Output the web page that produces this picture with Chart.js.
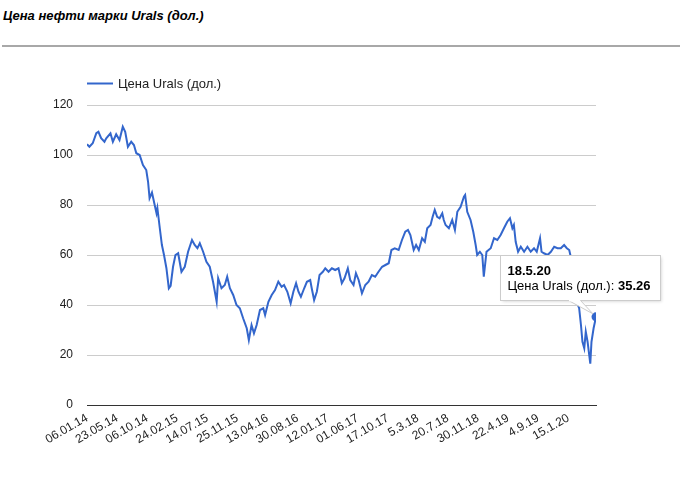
<!DOCTYPE html>
<html>
<head>
<meta charset="utf-8">
<script src="https://cdn.jsdelivr.net/npm/chart.js@4.4.1/dist/chart.umd.min.js"></script>
<style>
  body { margin: 0; background: #fff; }
  #wrap { position: relative; width: 682px; height: 479px; }
  .chart-title { position: absolute; left: 3px; top: 8px; font: italic bold 13px Arial, 'Liberation Sans', sans-serif; color: #000; }
  .rule { position: absolute; left: 2px; top: 45px; width: 678px; height: 2px; background: #a8a8a8; }
  canvas { position: absolute; left: 0; top: 0; }
</style>
</head>
<body>
<div id="wrap">
  <div class="chart-title">Цена нефти марки Urals (дол.)</div>
  <div class="rule"></div>
  <canvas id="urals-chart" width="682" height="479"></canvas>
</div>
<script>
// Urals price, trading-day index from 06.01.14
const seriesName = 'Цена Urals (дол.)';
const tickLabels = ['06.01.14', '23.05.14', '06.10.14', '24.02.15', '14.07.15', '25.11.15', '13.04.16', '30.08.16',
  '12.01.17', '01.06.17', '17.10.17', '5.3.18', '20.7.18', '30.11.18', '22.4.19', '4.9.19', '15.1.20'];
const tickStep = 100; // trading days between shown labels
const lastLabel = '18.5.20';

const tradeDay = [
  0, 8, 19, 31, 38, 47, 58, 64, 78, 86, 97, 108, 119, 127, 136, 147, 156, 164, 175, 186,
  197, 203, 208, 216, 225, 231, 234, 242, 249, 256, 264, 272, 278, 286, 294, 303, 314, 325, 336, 349,
  358, 367, 375, 386, 397, 408, 419, 431, 436, 447, 458, 466, 475, 486, 497, 508, 519, 531, 538, 547,
  555, 564, 575, 586, 592, 603, 614, 625, 636, 647, 655, 666, 677, 686, 695, 703, 711, 722, 731, 742,
  747, 755, 764, 773, 784, 792, 803, 814, 825, 836, 847, 856, 867, 875, 886, 894, 903, 914, 925, 936,
  947, 958, 969, 981, 992, 1003, 1012, 1023, 1036, 1047, 1058, 1067, 1075, 1086, 1094, 1103, 1114, 1123, 1131, 1142,
  1149, 1156, 1164, 1172, 1181, 1186, 1192, 1203, 1214, 1223, 1231, 1242, 1253, 1257, 1264, 1275, 1284, 1292, 1297, 1306,
  1314, 1319, 1328, 1342, 1353, 1364, 1375, 1386, 1397, 1406, 1414, 1419, 1425, 1433, 1442, 1453, 1464, 1475, 1486, 1495,
  1506, 1511, 1519, 1531, 1542, 1553, 1564, 1575, 1586, 1595, 1603, 1608, 1615, 1625, 1632, 1636, 1642, 1647, 1653, 1658,
  1664, 1673, 1677, 1684, 1692
];
const price = [
  104.3, 103.3, 104.7, 108.7, 109.3, 106.7, 105.3, 106.7, 108.7, 105.3, 108.3, 106, 111.3, 109.3, 103.3, 105.3, 104, 100.7, 100, 96,
  94, 89.3, 82.7, 85, 80, 76.7, 78.7, 70.7, 64, 60, 54.7, 46.7, 47.7, 55.3, 60, 60.7, 53.3, 55.3, 61.3, 66,
  64, 62.7, 64.7, 61.3, 57.3, 55.3, 49.3, 41.3, 50.7, 46.7, 48, 51.3, 46.7, 44, 40, 38.7, 34.7, 30.7, 26, 32,
  28.7, 32, 38, 38.7, 36, 41.3, 44, 46, 49.3, 47.3, 48, 45.3, 40.7, 45.3, 48.7, 45.3, 43.3, 46.7, 49.3, 50,
  46.7, 42, 45.3, 52, 53.3, 54.7, 53.3, 54.7, 54, 54.7, 48.7, 50.7, 54.7, 50, 48, 52.7, 50, 44.7, 48, 49.3,
  52, 51.3, 53.3, 55.3, 56, 56.7, 62, 62.7, 62, 66, 69.3, 70, 68, 62, 64, 62, 66.7, 65.3, 70.7, 72,
  75.3, 78, 75.3, 74.7, 76.7, 74, 72, 70.7, 74, 70, 77.3, 79.3, 83.3, 84, 77.3, 74, 69.3, 64, 60, 61.3,
  60, 51.3, 61.3, 62.7, 66.7, 66, 68, 70.7, 73.3, 74.7, 70.7, 72, 65.3, 61.3, 63.3, 61.3, 63.3, 61.3, 62.7, 61.3,
  66.7, 61.3, 60.7, 60, 61.3, 63.3, 62.7, 62.7, 64, 62.7, 62, 59.3, 54, 46, 40, 38.7, 32, 25.3, 22.7, 29.3,
  25.3, 16.5, 25.3, 30.7, 35.26
];

const lineColor = '#3366cc';
const lastIdx = price.length - 1;

// legend + fixed tooltip for the last point
const overlayPlugin = {
  id: 'overlay',
  afterDraw(chart) {
    const ctx = chart.ctx;
    ctx.save();
    // legend
    ctx.strokeStyle = lineColor;
    ctx.lineWidth = 2;
    ctx.beginPath();
    ctx.moveTo(87, 83.5);
    ctx.lineTo(113, 83.5);
    ctx.stroke();
    ctx.fillStyle = '#222';
    ctx.font = '13px Arial, "Liberation Sans", sans-serif';
    ctx.textBaseline = 'middle';
    ctx.fillText(seriesName, 118, 84);

    // tooltip
    const pt = chart.getDatasetMeta(0).data[lastIdx];
    const bodyA = seriesName + ': ';
    const bodyB = price[lastIdx].toFixed(2);
    ctx.font = '13px Arial, "Liberation Sans", sans-serif';
    const wA = ctx.measureText(bodyA).width;
    ctx.font = 'bold 13px Arial, "Liberation Sans", sans-serif';
    const wB = ctx.measureText(bodyB).width;
    const bx = Math.round(pt.x) - 95.5, by = Math.round(pt.y) - 61.5;
    const bw = Math.round(wA + wB + 17), bh = 45;

    ctx.shadowColor = 'rgba(0,0,0,0.18)';
    ctx.shadowBlur = 3;
    ctx.shadowOffsetX = 1;
    ctx.shadowOffsetY = 1;
    ctx.fillStyle = '#fff';
    ctx.fillRect(bx, by, bw, bh);
    ctx.shadowColor = 'transparent';
    ctx.strokeStyle = '#ccc';
    ctx.lineWidth = 1;
    ctx.strokeRect(bx, by, bw, bh);

    // tail
    const t1 = bx + 68, t2 = bx + 80;
    ctx.beginPath();
    ctx.moveTo(t1, by + bh);
    ctx.lineTo(pt.x - 3, pt.y - 3);
    ctx.lineTo(t2, by + bh);
    ctx.closePath();
    ctx.fillStyle = '#fff';
    ctx.fill();
    ctx.beginPath();
    ctx.moveTo(t1, by + bh);
    ctx.lineTo(pt.x - 3, pt.y - 3);
    ctx.lineTo(t2, by + bh);
    ctx.stroke();
    ctx.fillStyle = '#fff';
    ctx.fillRect(t1 + 0.5, by + bh - 1, t2 - t1 - 1, 2);

    ctx.textBaseline = 'alphabetic';
    ctx.fillStyle = '#000';
    ctx.font = 'bold 13px Arial, "Liberation Sans", sans-serif';
    ctx.fillText(lastLabel, bx + 7, by + 19);
    ctx.font = '13px Arial, "Liberation Sans", sans-serif';
    ctx.fillText(bodyA, bx + 7, by + 34);
    ctx.font = 'bold 13px Arial, "Liberation Sans", sans-serif';
    ctx.fillText(bodyB, bx + 7 + wA, by + 34);
    ctx.restore();
  }
};

new Chart(document.getElementById('urals-chart'), {
  type: 'line',
  data: {
    datasets: [{
      label: seriesName,
      data: tradeDay.map((d, i) => ({ x: d, y: price[i] })),
      borderColor: lineColor,
      backgroundColor: lineColor,
      borderWidth: 2,
      tension: 0,
      pointRadius: c => c.dataIndex === lastIdx ? 4.5 : 0,
      pointBorderWidth: 0,
      fill: false
    }]
  },
  options: {
    responsive: false,
    devicePixelRatio: 1,
    animation: false,
    events: [],
    layout: { padding: { top: 105, right: 86, bottom: 0, left: 0 } },
    plugins: { legend: { display: false }, tooltip: { enabled: false } },
    scales: {
      x: {
        type: 'linear',
        min: 0,
        max: tradeDay[lastIdx],
        afterBuildTicks: s => { s.ticks = tickLabels.map((_, i) => ({ value: i * tickStep })); },
        afterFit: s => { s.height = 74; },
        ticks: {
          autoSkip: false,
          minRotation: 30,
          maxRotation: 30,
          padding: 6,
          color: '#222',
          font: { family: 'Arial, "Liberation Sans", sans-serif', size: 12 },
          callback: v => tickLabels[Math.round(v / tickStep)]
        },
        grid: { display: false, drawTicks: false },
        border: { display: true, color: '#333', width: 1 }
      },
      y: {
        min: 0,
        max: 120,
        afterFit: s => { s.width = 87; },
        ticks: {
          stepSize: 20,
          padding: 14,
          color: '#222',
          font: { family: 'Arial, "Liberation Sans", sans-serif', size: 12 }
        },
        grid: { color: '#ccc', drawTicks: false },
        border: { display: false }
      }
    }
  },
  plugins: [overlayPlugin]
});
</script>
</body>
</html>
